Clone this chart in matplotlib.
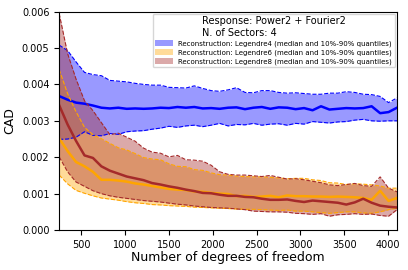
import numpy as np
import matplotlib
matplotlib.use("Agg")
import matplotlib.pyplot as plt

# degrees of freedom (x grid)
dofs = [250, 346, 442, 539, 635, 731, 828, 924, 1020, 1116, 1212, 1309, 1405, 1501,
        1598, 1694, 1790, 1886, 1982, 2079, 2175, 2271, 2368, 2464, 2560, 2656, 2752,
        2849, 2945, 3041, 3138, 3234, 3330, 3426, 3522, 3619, 3715, 3811, 3908, 4004, 4100]

# values in units of 1e-3
leg4_hi = [5.08, 4.93, 4.62, 4.33, 4.27, 4.24, 4.11, 4.09, 4.07, 4.03, 4.00, 3.98, 3.98, 3.92,
           3.91, 3.90, 3.96, 3.89, 3.83, 3.81, 3.85, 3.91, 3.78, 3.77, 3.83, 3.83, 3.78,
           3.76, 3.77, 3.75, 3.73, 3.73, 3.76, 3.76, 3.80, 3.78, 3.73, 3.72, 3.67, 3.50, 3.63]
leg4_med = [3.68, 3.58, 3.50, 3.47, 3.42, 3.36, 3.34, 3.36, 3.33, 3.34, 3.33, 3.34, 3.36, 3.35,
            3.38, 3.36, 3.38, 3.34, 3.35, 3.33, 3.36, 3.37, 3.32, 3.36, 3.38, 3.33, 3.37,
            3.36, 3.32, 3.35, 3.29, 3.40, 3.31, 3.33, 3.35, 3.34, 3.35, 3.40, 3.21, 3.24, 3.36]
leg4_lo = [2.49, 2.50, 2.55, 2.70, 2.60, 2.59, 2.65, 2.63, 2.70, 2.72, 2.73, 2.77, 2.80, 2.85,
           2.82, 2.86, 2.88, 2.84, 2.88, 2.93, 2.86, 2.90, 2.89, 2.93, 2.88, 2.91, 2.92,
           2.88, 2.93, 2.91, 2.98, 2.96, 2.94, 2.97, 2.98, 3.02, 3.04, 3.00, 2.99, 3.00, 3.00]

leg6_hi = [4.41, 3.75, 3.25, 2.82, 2.62, 2.51, 2.38, 2.26, 2.20, 2.10, 1.99, 1.95, 1.93, 1.82,
           1.75, 1.74, 1.66, 1.64, 1.57, 1.52, 1.51, 1.48, 1.47, 1.46, 1.46, 1.45, 1.43,
           1.41, 1.42, 1.42, 1.38, 1.36, 1.30, 1.29, 1.25, 1.27, 1.26, 1.24, 1.21, 1.15, 1.15]
leg6_med = [2.52, 2.17, 1.87, 1.75, 1.60, 1.38, 1.38, 1.36, 1.33, 1.28, 1.25, 1.21, 1.17, 1.13,
            1.11, 1.10, 1.06, 1.05, 1.02, 1.00, 0.99, 0.93, 0.94, 0.91, 0.92, 0.94, 0.90,
            0.95, 0.93, 0.93, 0.92, 0.92, 0.91, 0.92, 0.91, 0.90, 0.88, 0.83, 1.08, 0.80, 0.88]
leg6_lo = [1.51, 1.27, 1.09, 1.01, 0.94, 0.88, 0.85, 0.82, 0.78, 0.75, 0.73, 0.70, 0.69, 0.67,
           0.66, 0.65, 0.63, 0.62, 0.61, 0.60, 0.59, 0.58, 0.57, 0.57, 0.56, 0.55, 0.54,
           0.55, 0.52, 0.52, 0.50, 0.48, 0.46, 0.48, 0.50, 0.50, 0.47, 0.46, 0.50, 0.56, 0.60]

leg8_hi = [5.95, 4.85, 4.15, 3.55, 3.28, 2.95, 2.62, 2.66, 2.55, 2.44, 2.25, 2.14, 2.11, 2.01,
           2.05, 1.93, 1.92, 1.89, 1.78, 1.60, 1.53, 1.51, 1.51, 1.49, 1.47, 1.50, 1.45,
           1.40, 1.41, 1.38, 1.34, 1.30, 1.24, 1.22, 1.25, 1.28, 1.22, 1.20, 1.46, 1.15, 1.05]
leg8_med = [3.43, 2.90, 2.45, 2.05, 1.98, 1.75, 1.63, 1.55, 1.47, 1.42, 1.37, 1.29, 1.25, 1.20,
            1.16, 1.11, 1.07, 1.02, 1.01, 0.97, 0.94, 0.94, 0.91, 0.90, 0.86, 0.83, 0.83,
            0.84, 0.80, 0.77, 0.81, 0.79, 0.77, 0.75, 0.70, 0.76, 0.86, 0.75, 0.67, 0.64, 0.62]
leg8_lo = [2.01, 1.60, 1.32, 1.20, 1.08, 1.00, 0.94, 0.90, 0.87, 0.84, 0.81, 0.79, 0.77, 0.74,
           0.71, 0.69, 0.66, 0.64, 0.62, 0.61, 0.60, 0.58, 0.56, 0.52, 0.51, 0.50, 0.50,
           0.49, 0.46, 0.45, 0.43, 0.45, 0.38, 0.42, 0.43, 0.45, 0.43, 0.44, 0.40, 0.38, 0.56]

series = [
    ("Legendre4", leg4_lo, leg4_med, leg4_hi, "blue"),
    ("Legendre6", leg6_lo, leg6_med, leg6_hi, "orange"),
    ("Legendre8", leg8_lo, leg8_med, leg8_hi, "brown"),
]

fig, ax = plt.subplots(figsize=(4.08, 2.70), dpi=100)
fig.subplots_adjust(left=0.145, right=0.973, top=0.957, bottom=0.148)

x = np.array(dofs)
for name, lo, med, hi, col in series:
    lo = np.array(lo) * 1e-3
    med = np.array(med) * 1e-3
    hi = np.array(hi) * 1e-3
    ax.fill_between(x, lo, hi, color=col, alpha=0.4, lw=0,
                    label="Reconstruction: " + name + " (median and 10%-90% quantiles)")
    ax.plot(x, lo, color=col, ls="--", lw=0.8)
    ax.plot(x, hi, color=col, ls="--", lw=0.8)
    ax.plot(x, med, color=col, lw=1.8)

ax.set_xlim(250, 4100)
ax.set_ylim(0, 0.006)
ax.set_xticks([500, 1000, 1500, 2000, 2500, 3000, 3500, 4000])
ax.tick_params(labelsize=7)
ax.set_xlabel("Number of degrees of freedom", fontsize=9, labelpad=1)
ax.set_ylabel("CAD", fontsize=9)

leg = ax.legend(loc="upper right", fontsize=5, title="Response: Power2 + Fourier2\nN. of Sectors: 4",
                title_fontsize=7, handlelength=2.5, handleheight=0.9, labelspacing=0.3,
                borderaxespad=0.3)

fig.savefig("out.png")
